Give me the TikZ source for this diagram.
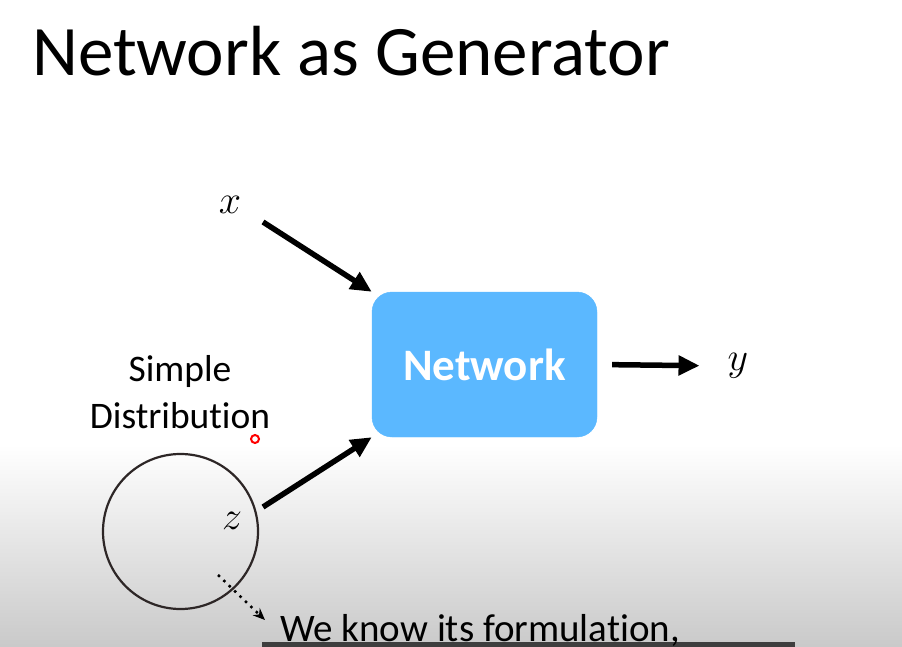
\documentclass[tikz,border=0pt]{standalone}
\usepackage{fix-cm}
\usepackage{fontspec}
\setmainfont{Carlito}[Ligatures=NoCommon]
\usetikzlibrary{arrows.meta,positioning}
\definecolor{netblue}{RGB}{91,184,255}
\definecolor{ringgray}{RGB}{45,38,38}
\definecolor{bargray}{RGB}{62,62,62}

\begin{document}
\begin{tikzpicture}[x=1pt,y=-1pt,
  bigarrow/.style={-{Triangle[length=21pt,width=19pt]},line width=5.5pt},
  label/.style={inner sep=0pt,font=\fontsize{40}{44}\selectfont}]
  \useasboundingbox (0,0) rectangle (902,647);
  % background fade at the bottom
  \shade[top color=white,bottom color=gray!42] (0,445) rectangle (902,647);

  \node[anchor=base west,inner sep=0pt,font=\fontsize{71}{80}\selectfont] (title) at (32,76) {Network as Generator};

  \node[fill=netblue,draw=netblue,rounded corners=20pt,minimum width=225pt,minimum height=145pt,
        text=white,font=\bfseries\fontsize{45}{50}\selectfont] (net) at (484.5,364.5) {Network};

  \node[label] (xin) at (230,205) {$x$};
  \node[label] (yout) at (738,366) {$y$};
  \node[align=center,inner sep=0pt,font=\fontsize{37.5}{47}\selectfont] (simple) at (180,392) {Simple\\Distribution};
  \node[circle,draw=ringgray,line width=2.2pt,minimum size=155pt] (dist) at (180.5,531.5) {};
  \node[label] (zin) at (232,521) {$z$};
  \node[circle,draw=red,fill=white,line width=2pt,minimum size=8pt,inner sep=0pt] (pointer) at (255,439) {};

  \coordinate (xtail) at (263,222);
  \coordinate (ztail) at (263,507);
  \coordinate (dotstart) at (218,575);
  \coordinate (dotend) at (265,620);

  \draw[bigarrow] (xtail) -- (net.north west);
  \draw[bigarrow] (ztail) -- (net.south west);
  \draw[bigarrow,shorten <=15pt,shorten >=28pt] (net.east) -- (yout.west);
  \draw[-{Stealth[length=12pt,width=10pt]},line width=2.5pt,dash pattern=on 2.5pt off 5pt] (dotstart) -- (dotend);

  % subtitle bar
  \fill[bargray] (262,642) rectangle (795,647);
  \node[anchor=base west,inner sep=0pt,font=\fontsize{39}{44}\selectfont] (formula) at (280,641) {We know its formulation,};
\end{tikzpicture}
\end{document}
